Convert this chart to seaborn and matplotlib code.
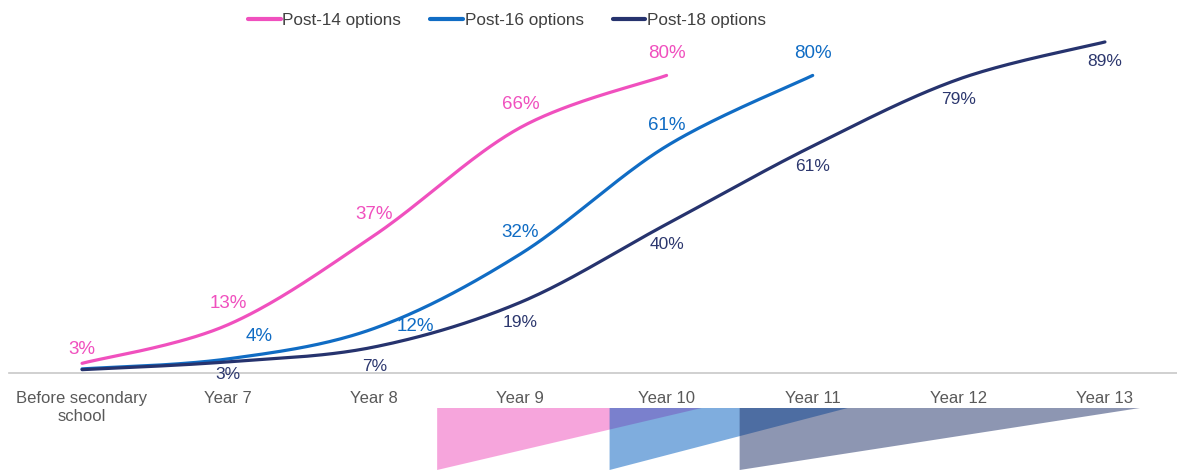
import numpy as np
import pandas as pd
import matplotlib
matplotlib.use("Agg")
import matplotlib.pyplot as plt
from matplotlib.patches import Polygon
import seaborn as sns

sns.set_theme(style="white")
plt.rcParams['font.family'] = ['Liberation Sans', 'DejaVu Sans']

# categories on the x axis
categories = ["Before secondary\nschool", "Year 7", "Year 8", "Year 9",
              "Year 10", "Year 11", "Year 12", "Year 13"]

# share who have thought about options (%)
post14 = [2.6, 13, 37, 66, 80]
post16 = [1.1, 3.8, 12, 32, 61, 80]
post18 = [0.9, 3, 7, 19, 40, 61, 79, 89]

# which points carry a label
post14_labels = ["3%", "13%", "37%", "66%", "80%"]
post16_labels = [None, "4%", "12%", "32%", "61%", "80%"]
post18_labels = [None, "3%", "7%", "19%", "40%", "61%", "79%", "89%"]

series_names = ["Post-14 options", "Post-16 options", "Post-18 options"]
colors = ["#F050BE", "#106CC4", "#26336E"]
wedge_colors = ["#EF4DBB", "#005DBF", "#1D2F67"]

# label offsets in pixels (dx, dy)
off14 = [(0, 14), (0, 21), (0, 21), (0, 23), (0, 22)]
off16 = [None, (31, 22), (41, 2), (0, 21), (0, 21), (0, 22)]
off18 = [None, (0, -13), (0, -20), (0, -20), (0, -20), (0, -20), (0, -20), (0, -20)]

# wedges below the axis (start, end) in category units
wedges = [(2.43, 4.24), (3.61, 5.24), (4.50, 7.24)]


def smooth(xs, ys, n=40):
    # bezier smoothing similar to office "smoothed line"
    pts = np.column_stack([xs, ys]).astype(float)
    p = np.vstack([pts[0], pts, pts[-1]])
    out = []
    for i in range(1, len(p) - 2):
        p0, p1, p2, p3 = p[i - 1], p[i], p[i + 1], p[i + 2]
        c1 = p1 + (p2 - p0) / 6
        c2 = p2 - (p3 - p1) / 6
        t = np.linspace(0, 1, n)[:, None]
        seg = ((1 - t) ** 3) * p1 + 3 * ((1 - t) ** 2) * t * c1 + 3 * (1 - t) * t ** 2 * c2 + t ** 3 * p2
        out.append(seg if i == 1 else seg[1:])
    return np.vstack(out)


all_vals = [post14, post16, post18]
rows = []
for name, vals in zip(series_names, all_vals):
    curve = smooth(np.arange(len(vals)), vals)
    for k, (x, y) in enumerate(curve):
        rows.append({"series": name, "x": x, "y": y, "order": k})
df = pd.DataFrame(rows)

fig = plt.figure(figsize=(11.77, 4.70), dpi=100)
ax = fig.add_axes([9 / 1177, 97 / 470, 1169 / 1177, 353 / 470])

sns.lineplot(data=df, x="x", y="y", hue="series", palette=colors,
             sort=False, estimator=None, units="series", linewidth=2.3, ax=ax)

ax.set_xlim(-0.5, 7.5)
ax.set_ylim(0, 94.9)
ax.set_xticks(range(len(categories)))
ax.set_xticklabels(categories, fontsize=12, color="#595959", linespacing=1.25)
ax.tick_params(axis="x", length=0, pad=13)
ax.set_yticks([])
ax.set_xlabel("")
ax.set_ylabel("")
for s in ["top", "right", "left"]:
    ax.spines[s].set_visible(False)
ax.spines["bottom"].set_color("#C8C8C8")
ax.spines["bottom"].set_linewidth(1.2)

label_sets = [(post14, post14_labels, off14, colors[0], 13.5),
              (post16, post16_labels, off16, colors[1], 13.5),
              (post18, post18_labels, off18, "#2C376E", 12.5)]
for vals, labs, offs, col, fs in label_sets:
    for i, (v, lab, off) in enumerate(zip(vals, labs, offs)):
        if lab is None:
            continue
        ax.annotate(lab, (i, v), xytext=off, textcoords="offset pixels",
                    ha="center", va="center", color=col, fontsize=fs)

leg = ax.legend(loc="center", bbox_to_anchor=(507 / 1177, 450 / 470),
                bbox_transform=fig.transFigure, ncol=3, frameon=False,
                fontsize=12.3, handlelength=1.9, handletextpad=0.1,
                columnspacing=1.7, labelcolor="#404040")
for h in leg.get_lines():
    h.set_linewidth(3)

# wedges under the year axis
wax = fig.add_axes([9 / 1177, 0, 1169 / 1177, 62 / 470])
wax.set_xlim(-0.5, 7.5)
wax.set_ylim(0, 1)
wax.axis("off")
for (x0, x1), c in zip(wedges, wedge_colors):
    wax.add_patch(Polygon([(x0, 1), (x1, 1), (x0, 0)], closed=True,
                          facecolor=c, edgecolor="none", alpha=0.5))

fig.savefig("out.png", dpi=100)
